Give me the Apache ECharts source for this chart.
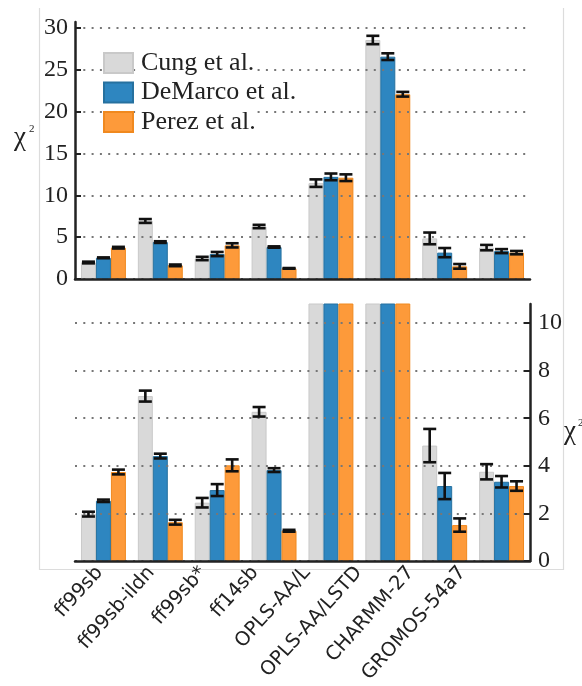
<!DOCTYPE html>
<html>
<head>
<meta charset="utf-8">
<script src="https://cdn.jsdelivr.net/npm/echarts@6/dist/echarts.min.js"></script>
<style>
  html, body { margin: 0; padding: 0; background: #fff; }
  #chart { width: 582px; height: 686px; }
</style>
</head>
<body>
<div id="chart"></div>
<script>
// Force fields and chi-squared agreement with three NMR data sets
const categories = ['ff99sb', 'ff99sb-ildn', 'ff99sb*', 'ff14sb', 'OPLS-AA/L', 'OPLS-AA/LSTD', 'CHARMM-27', 'GROMOS-54a7'];

const cung       = [1.97, 6.93, 2.45, 6.27, 11.45, 28.55, 4.85, 3.75];
const cungErr    = [0.10, 0.23, 0.20, 0.20, 0.45, 0.50, 0.70, 0.32];
const demarco    = [2.53, 4.41, 2.98, 3.82, 12.20, 26.56, 3.15, 3.33];
const demarcoErr = [0.05, 0.10, 0.25, 0.08, 0.40, 0.40, 0.55, 0.24];
const perez      = [3.74, 1.63, 4.02, 1.27, 12.10, 22.07, 1.51, 3.15];
const perezErr   = [0.10, 0.10, 0.25, 0.04, 0.40, 0.28, 0.28, 0.20];

const seriesNames = ['Cung et al.', 'DeMarco et al.', 'Perez et al.'];

const topTicks = [0, 5, 10, 15, 20, 25, 30];
const bottomTicks = [0, 2, 4, 6, 8, 10];

const values = [cung, demarco, perez];
const errors = [cungErr, demarcoErr, perezErr];
const fills = ['#d9d9d9', '#2e86c0', '#fd9a3a'];
const edges = ['#c9c9c9', '#26719f', '#f0891f'];

const serif = 'Liberation Serif';
const sans = 'DejaVu Sans';
const catGap = 0.21;

const chart = echarts.init(document.getElementById('chart'), null, { renderer: 'canvas' });

// Error bar (whisker + caps) centred on the slot-th bar of a category group
function errorBarRenderer(slot) {
  return function (params, api) {
    const cat = api.value(0);
    const v = api.value(1);
    const e = api.value(2);
    const band = api.size([1, 0])[0];
    const barW = band * (1 - catGap) / 3;
    const c = api.coord([cat, v]);
    const x = c[0] + (slot - 1) * barW;
    const yTop = api.coord([cat, v + e])[1];
    const yBot = api.coord([cat, v - e])[1];
    const cap = 6.5;
    const style = { stroke: '#111', lineWidth: 2.6 };
    return {
      type: 'group',
      children: [
        { type: 'line', shape: { x1: x, y1: yTop, x2: x, y2: yBot }, style },
        { type: 'line', shape: { x1: x - cap, y1: yTop, x2: x + cap, y2: yTop }, style },
        { type: 'line', shape: { x1: x - cap, y1: yBot, x2: x + cap, y2: yBot }, style }
      ]
    };
  };
}

const series = [];
[0, 1].forEach(function (g) {
  values.forEach(function (vals, i) {
    series.push({
      name: seriesNames[i],
      type: 'bar',
      xAxisIndex: g,
      yAxisIndex: g,
      data: vals,
      barGap: '0%',
      barCategoryGap: (catGap * 100) + '%',
      clip: true,
      itemStyle: { color: fills[i], borderColor: edges[i], borderWidth: 1 },
      z: 2
    });
  });
  values.forEach(function (vals, i) {
    series.push({
      name: 'err-' + g + '-' + i,
      type: 'custom',
      xAxisIndex: g,
      yAxisIndex: g,
      clip: true,
      renderItem: errorBarRenderer(i),
      data: vals.map(function (v, k) { return [k, v, errors[i][k]]; }),
      z: 6
    });
  });
});

const yLabel = { fontFamily: serif, fontSize: 24, color: '#222' };
const dotted = { color: '#777', width: 2, type: [2, 6.3] };

const option = {
  animation: false,
  backgroundColor: '#fff',
  grid: [
    { left: 75, top: 22, width: 455, height: 257 },
    { left: 75, top: 304, width: 455, height: 257 },
    // carries the rotated force-field names under the lower panel
    { left: 73.5, top: 304, width: 415, height: 257 }
  ],
  legend: {
    data: seriesNames,
    orient: 'vertical',
    left: 103,
    top: 50,
    padding: 0,
    itemWidth: 29,
    itemHeight: 20,
    itemGap: 3.5,
    icon: 'rect',
    z: 8,
    selectedMode: false,
    textStyle: { fontFamily: serif, fontSize: 26, color: '#222', backgroundColor: '#fff', padding: [0, 0, 0, 3] }
  },
  xAxis: [
    {
      type: 'category', gridIndex: 0, data: categories,
      axisLine: { lineStyle: { color: '#222', width: 2.5 } },
      axisTick: { show: false }, axisLabel: { show: false }, z: 7
    },
    {
      type: 'category', gridIndex: 1, data: categories,
      axisLine: { lineStyle: { color: '#222', width: 2.5 } },
      axisTick: { show: false }, axisLabel: { show: false }, z: 7
    },
    {
      type: 'category', gridIndex: 2, data: categories,
      axisLine: { show: false },
      axisTick: { show: false },
      axisLabel: { rotate: 48, fontFamily: sans, fontSize: 19.5, color: '#222', margin: 16, interval: 0 }
    }
  ],
  yAxis: [
    {
      type: 'value', gridIndex: 0, min: 0, max: 30.7, position: 'left',
      axisLine: { show: true, lineStyle: { color: '#222', width: 2.5 } },
      axisTick: { show: true, inside: true, length: 6, customValues: topTicks, lineStyle: { color: '#222', width: 2 } },
      axisLabel: Object.assign({ margin: 7, customValues: topTicks }, yLabel),
      splitLine: { show: true, lineStyle: dotted },
      z: 5
    },
    {
      type: 'value', gridIndex: 1, min: 0, max: 10.8, position: 'right',
      axisLine: { show: true, lineStyle: { color: '#222', width: 2.5 } },
      axisTick: { show: true, inside: true, length: 6, customValues: bottomTicks, lineStyle: { color: '#222', width: 2 } },
      axisLabel: Object.assign({ margin: 8, customValues: bottomTicks }, yLabel),
      splitLine: { show: true, lineStyle: dotted },
      z: 5
    },
    {
      type: 'value', gridIndex: 2, show: false
    }
  ],
  graphic: [
    {
      type: 'polyline', silent: true, z: -1,
      shape: { points: [[39.5, 8], [39.5, 569.5], [563.5, 569.5], [563.5, 8]] },
      style: { stroke: '#dcdcdc', lineWidth: 1.2, fill: null }
    },
    { type: 'text', left: 14, top: 124, style: { text: 'χ', font: '27px "Liberation Serif"', fill: '#222' } },
    { type: 'text', left: 29, top: 124, style: { text: '2', font: '11px "Liberation Serif"', fill: '#222' } },
    { type: 'text', left: 564, top: 418, style: { text: 'χ', font: '27px "Liberation Serif"', fill: '#222' } },
    { type: 'text', left: 578, top: 418, style: { text: '2', font: '11px "Liberation Serif"', fill: '#222' } }
  ],
  series: series
};

chart.setOption(option);
</script>
</body>
</html>
